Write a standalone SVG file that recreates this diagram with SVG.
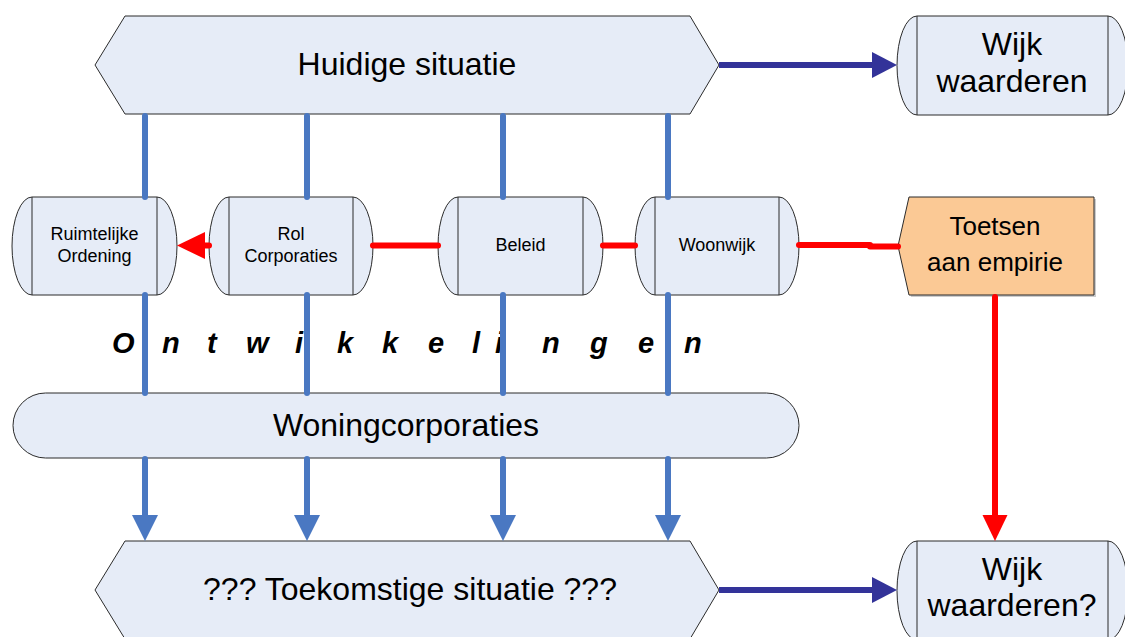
<svg xmlns="http://www.w3.org/2000/svg" width="1125" height="637" viewBox="0 0 1125 637">
  <defs>
    <style>
      .shape { fill: #E6ECF7; stroke: #2b2b2b; stroke-width: 1; }
      .peach { fill: #FBC995; stroke: #2b2b2b; stroke-width: 1; }
      .div { stroke: #2b2b2b; stroke-width: 1; fill: none; }
      .lbl { font-family: "Liberation Sans", Arial, sans-serif; fill: #000; text-anchor: middle; }
      .big { font-size: 32px; }
      .mid { font-size: 26px; }
      .small { font-size: 18px; }
      .blue { stroke: #4A78C2; stroke-width: 6; stroke-linecap: round; fill: none; }
      .red { stroke: #FF0000; stroke-width: 6; stroke-linecap: round; fill: none; }
      .navy { stroke: #333399; stroke-width: 6; fill: none; }
      .head-blue { fill: #4A78C2; }
      .head-red { fill: #FF0000; }
      .head-navy { fill: #333399; }
      .spaced { font-family: "Liberation Sans", Arial, sans-serif; font-size: 29px; font-weight: bold; font-style: italic; fill: #000; }
    </style>
  </defs>

  <!-- spaced heading between the process row and the corporations bar -->
  <text class="spaced" x="112 162 207 246 295 337 382 428 472 495 542 590 638 684" y="353">Ontwikkelingen</text>

  <!-- current situation -->
  <g id="huidige-situatie">
    <polygon class="shape" points="95,65 125,16 690,16 719,65 690,114 125,114"/>
    <text class="lbl big" x="407" y="75">Huidige situatie</text>
  </g>

  <!-- future situation -->
  <g id="toekomstige-situatie">
    <polygon class="shape" points="95,590 125,541 690,541 719,590 690,639 125,639"/>
    <text class="lbl big" x="410" y="600">??? Toekomstige situatie ???</text>
  </g>

  <!-- neighbourhood valuation (top) -->
  <g id="wijk-waarderen">
    <path class="shape" d="M917,16 H1108 A20,49.5 0 0 1 1108,115 H917 A20,49.5 0 0 1 917,16 Z"/>
    <path class="div" d="M917,16 V115 M1108,16 V115"/>
    <text class="lbl big" x="1012" y="55">Wijk</text>
    <text class="lbl big" x="1012" y="92">waarderen</text>
  </g>

  <!-- neighbourhood valuation (bottom) -->
  <g id="wijk-waarderen-2">
    <path class="shape" d="M917,541 H1108 A20,49.5 0 0 1 1108,640 H917 A20,49.5 0 0 1 917,541 Z"/>
    <path class="div" d="M917,541 V640 M1108,541 V640"/>
    <text class="lbl big" x="1012" y="580">Wijk</text>
    <text class="lbl big" x="1012" y="616">waarderen?</text>
  </g>

  <!-- process row -->
  <g id="ruimtelijke-ordening">
    <path class="shape" d="M32,197 H157 A20,49 0 0 1 157,295 H32 A20,49 0 0 1 32,197 Z"/>
    <path class="div" d="M32,197 V295 M157,197 V295"/>
    <text class="lbl small" x="94.5" y="240">Ruimtelijke</text>
    <text class="lbl small" x="94.5" y="262">Ordening</text>
  </g>

  <g id="rol-corporaties">
    <path class="shape" d="M229,197 H353 A20,49 0 0 1 353,295 H229 A20,49 0 0 1 229,197 Z"/>
    <path class="div" d="M229,197 V295 M353,197 V295"/>
    <text class="lbl small" x="291" y="240">Rol</text>
    <text class="lbl small" x="291" y="262">Corporaties</text>
  </g>

  <g id="beleid">
    <path class="shape" d="M458,197 H583 A20,49 0 0 1 583,295 H458 A20,49 0 0 1 458,197 Z"/>
    <path class="div" d="M458,197 V295 M583,197 V295"/>
    <text class="lbl small" x="520.5" y="251">Beleid</text>
  </g>

  <g id="woonwijk">
    <path class="shape" d="M655,197 H779 A20,49 0 0 1 779,295 H655 A20,49 0 0 1 655,197 Z"/>
    <path class="div" d="M655,197 V295 M779,197 V295"/>
    <text class="lbl small" x="717" y="251">Woonwijk</text>
  </g>

  <!-- empirical testing -->
  <g id="toetsen-aan-empirie">
    <polygon points="911,199 1096,199 1096,297 911,297 900,248" fill="#9a9a9a" opacity="0.5"/>
    <polygon class="peach" points="909,197 1094,197 1094,295 909,295 898,246"/>
    <text class="lbl mid" x="995" y="235">Toetsen</text>
    <text class="lbl mid" x="995" y="271">aan empirie</text>
  </g>

  <!-- housing corporations bar -->
  <g id="woningcorporaties">
    <rect class="shape" x="13" y="393" width="786" height="65" rx="32.5" ry="32.5"/>
    <text class="lbl big" x="406" y="436">Woningcorporaties</text>
  </g>

  <!-- connectors -->
  <g id="connectors">
    <!-- blue columns: current situation through the process row and corporations to the future -->
    <path class="blue" d="M145,116 V197 M307,116 V197 M503,116 V197 M668,116 V197"/>
    <path class="blue" d="M145,295 V393 M307,295 V393 M503,295 V393 M668,295 V393"/>
    <path class="blue" d="M145,459 V515 M307,459 V515 M503,459 V515 M668,459 V515" stroke-linecap="butt"/>
    <polygon class="head-blue" points="132,515 158,515 145,541"/>
    <polygon class="head-blue" points="294,515 320,515 307,541"/>
    <polygon class="head-blue" points="490,515 516,515 503,541"/>
    <polygon class="head-blue" points="655,515 681,515 668,541"/>

    <!-- red chain along the process row -->
    <path class="red" d="M373,245.5 H438"/>
    <path class="red" d="M603,245.5 H635"/>
    <path class="red" d="M799,245 H870"/>
    <path class="red" d="M870,246.5 H898" stroke-linecap="butt"/>
    <path class="red" d="M209,245.5 H204" stroke-linecap="butt"/>
    <polygon class="head-red" points="205,232 205,259 177,245.5"/>

    <!-- red drop from testing to the future valuation -->
    <path class="red" d="M995,297 V515" stroke-linecap="butt"/>
    <polygon class="head-red" points="982.5,515 1007.5,515 995,541"/>

    <!-- navy arrows towards the valuation nodes -->
    <path class="navy" d="M719,65 H873"/>
    <polygon class="head-navy" points="872,52 872,78 897,65"/>
    <path class="navy" d="M719,590 H873"/>
    <polygon class="head-navy" points="872,577 872,603 897,590"/>
  </g>
</svg>
